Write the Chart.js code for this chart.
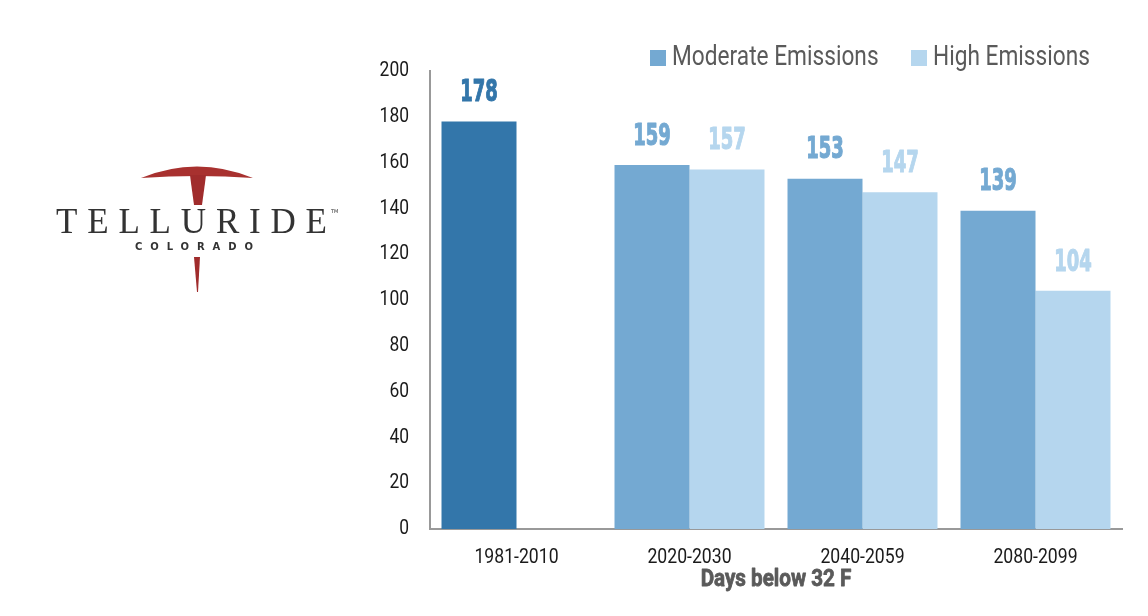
<!DOCTYPE html>
<html>
<head>
<meta charset="utf-8">
<script src="https://cdn.jsdelivr.net/npm/chart.js@4.4.1/dist/chart.umd.min.js"></script>
<style>
  html, body { margin: 0; padding: 0; background: #fff; }
  #wrap { position: relative; width: 1148px; height: 616px; }
  #logo { position: absolute; left: 0; top: 0; }
  canvas { position: absolute; left: 0; top: 0; }
</style>
</head>
<body>
<div id="wrap">
  <canvas id="c" width="1148" height="616"></canvas>
  <svg id="logo" width="360" height="320" viewBox="0 0 360 320">
    <path d="M141,178 Q197,155 253,178 Q197,174 141,178 Z" fill="#A8312F"/>
    <path d="M190,175 L206,175 L205,183 L202,205 L194,205 L191,183 Z" fill="#A02C2C"/>
    <path d="M194,257 L200,257 L198,292 L197,292 Z" fill="#A02C2C"/>
    <text x="56" y="233" font-family="'Liberation Serif', 'DejaVu Serif', serif" font-size="35" fill="#333" textLength="271" lengthAdjust="spacing">TELLURIDE</text>
    <text x="331" y="213" font-family="'DejaVu Sans', sans-serif" font-size="5" fill="#333">TM</text>
    <text x="135" y="250" font-family="'DejaVu Sans', sans-serif" font-weight="bold" font-size="10" fill="#333" textLength="118" lengthAdjust="spacing">COLORADO</text>
  </svg>
</div>
<script>
const categories = ['1981-2010', '2020-2030', '2040-2059', '2080-2099'];
const moderateValues = [178, 159, 153, 139];
const highValues = [null, 157, 147, 104];
const seriesNames = ['Moderate Emissions', 'High Emissions'];
const yTicks = [0, 20, 40, 60, 80, 100, 120, 140, 160, 180, 200];
const axisTitle = 'Days below 32 F';

const COL_HIST = '#3376AA';
const COL_MOD = '#74A9D2';
const COL_HIGH = '#B5D6EE';
const FONT = "Roboto, 'DejaVu Sans', sans-serif";

const modColors = moderateValues.map((v, i) => i === 0 ? COL_HIST : COL_MOD);

function narrowText(ctx, text, x, y, font, color, align, sx, stroke) {
  ctx.save();
  ctx.translate(x, y);
  ctx.scale(sx, 1);
  ctx.font = font;
  ctx.fillStyle = color;
  ctx.textAlign = align;
  ctx.textBaseline = 'middle';
  ctx.fillText(text, 0, 0);
  if (stroke) {
    ctx.strokeStyle = color;
    ctx.lineWidth = stroke;
    ctx.lineJoin = 'round';
    ctx.strokeText(text, 0, 0);
  }
  ctx.restore();
}

const valueLabels = {
  id: 'valueLabels',
  afterDatasetsDraw(chart) {
    const ctx = chart.ctx;
    chart.data.datasets.forEach((ds, di) => {
      const meta = chart.getDatasetMeta(di);
      meta.data.forEach((el, i) => {
        const v = ds.data[i];
        if (v === null || v === undefined) return;
        const color = Array.isArray(ds.backgroundColor) ? ds.backgroundColor[i] : ds.backgroundColor;
        narrowText(ctx, String(v), el.x, el.y - 28, "bold 30px 'DejaVu Sans', sans-serif", color, 'center', 0.6, 1.2);
      });
    });
  }
};

const axisText = {
  id: 'axisText',
  afterDraw(chart) {
    const ctx = chart.ctx;
    const xs = chart.scales.x, ys = chart.scales.y;
    const area = chart.chartArea;
    ys.ticks.forEach(t => {
      narrowText(ctx, String(t.value), area.left - 21, ys.getPixelForValue(t.value), "21px " + FONT, '#1a1a1a', 'right', 0.83);
    });
    chart.data.labels.forEach((lab, i) => {
      narrowText(ctx, lab, xs.getPixelForTick(i), area.bottom + 29, "21px " + FONT, '#1a1a1a', 'center', 0.84);
    });
    narrowText(ctx, axisTitle, (area.left + area.right) / 2, area.bottom + 51, "bold 24px " + FONT, '#5a5a5a', 'center', 0.86, 0.8);

    // legend
    const items = [
      { text: chart.data.datasets[0].label, color: COL_MOD, x: 650 },
      { text: chart.data.datasets[1].label, color: COL_HIGH, x: 911 }
    ];
    items.forEach(it => {
      ctx.fillStyle = it.color;
      ctx.fillRect(it.x, 50, 16, 16);
      narrowText(ctx, it.text, it.x + 22, 58, "28px " + FONT, '#5a5a5a', 'left', 0.81);
    });
  }
};

new Chart(document.getElementById('c'), {
  type: 'bar',
  data: {
    labels: categories,
    datasets: [
      { label: seriesNames[0], data: moderateValues, backgroundColor: modColors, borderWidth: 0 },
      { label: seriesNames[1], data: highValues, backgroundColor: COL_HIGH, borderWidth: 0 }
    ]
  },
  options: {
    responsive: false,
    animation: false,
    devicePixelRatio: 1,
    categoryPercentage: 0.867,
    barPercentage: 1.0,
    layout: { padding: { left: 430, right: 26, top: 71, bottom: 87 } },
    plugins: {
      legend: { display: false },
      tooltip: { enabled: false }
    },
    scales: {
      x: {
        grid: { display: false, drawTicks: false },
        border: { color: '#999999', width: 2 },
        ticks: { display: false }
      },
      y: {
        min: 0, max: 200,
        afterBuildTicks(scale) { scale.ticks = yTicks.map(v => ({ value: v })); },
        grid: { display: false, drawTicks: false },
        border: { color: '#999999', width: 2 },
        ticks: { display: false }
      }
    }
  },
  plugins: [valueLabels, axisText]
});
</script>
</body>
</html>
